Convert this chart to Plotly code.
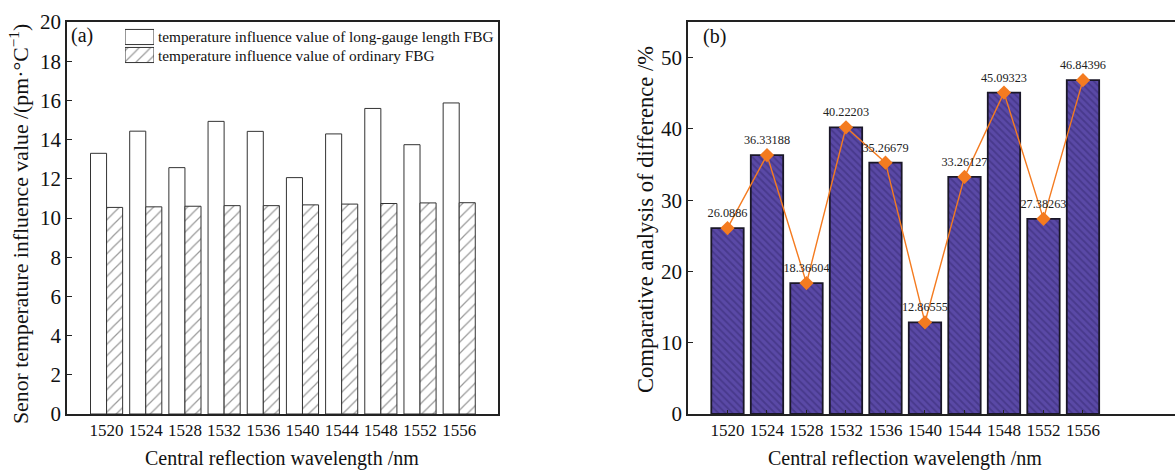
import plotly.graph_objects as go

# ---- data ----
wavelengths = ["1520", "1524", "1528", "1532", "1536", "1540", "1544", "1548", "1552", "1556"]
long_gauge = [13.30, 14.43, 12.57, 14.93, 14.42, 12.06, 14.29, 15.59, 13.74, 15.87]
ordinary = [10.54, 10.57, 10.60, 10.63, 10.63, 10.67, 10.71, 10.74, 10.77, 10.78]
difference = [26.0886, 36.33188, 18.36604, 40.22203, 35.26679, 12.86555, 33.26127, 45.09323, 27.38263, 46.84396]
legend_names = ["temperature influence value of long-gauge length FBG",
                "temperature influence value of ordinary FBG"]
y_ticks_a = list(range(0, 21, 2))
y_ticks_b = list(range(0, 51, 10))

W, H = 1175, 470
FONT = "Liberation Serif"

def px(x):
    return x / W

def py(y):
    return (H - y) / H

fig = go.Figure()

hatch_a = dict(shape="/", size=8, solidity=0.15, fgcolor="#333", bgcolor="white")

# panel (a)
fig.add_trace(go.Bar(x=wavelengths, y=long_gauge, name=legend_names[0], xaxis="x", yaxis="y",
                     marker=dict(color="white", line=dict(color="#333", width=1)), showlegend=False))
fig.add_trace(go.Bar(x=wavelengths, y=ordinary, name=legend_names[1], xaxis="x", yaxis="y",
                     marker=dict(color="white", line=dict(color="#333", width=1), pattern=hatch_a),
                     showlegend=False))

# panel (b)
fig.add_trace(go.Bar(x=wavelengths, y=difference, xaxis="x2", yaxis="y2", showlegend=False,
                     marker=dict(color="#5a49a6", line=dict(color="#1a1728", width=1.8),
                                 pattern=dict(shape="\\", size=5, solidity=0.38, fgcolor="#362a72", bgcolor="#5a49a6"))))
fig.add_trace(go.Scatter(x=wavelengths, y=difference, xaxis="x2", yaxis="y2", showlegend=False,
                         mode="lines+markers+text", text=[str(v) for v in difference],
                         textposition="top center", textfont=dict(family=FONT, size=12.3, color="#222"),
                         line=dict(color="#f47b20", width=1.4),
                         marker=dict(symbol="diamond", size=11, color="#f47b20")))

# legend swatches for panel (a)
fig.add_trace(go.Bar(x=[1], y=[1], orientation="h", xaxis="x3", yaxis="y3", showlegend=False,
                     width=0.84, offset=-0.42,
                     marker=dict(color="white", line=dict(color="#333", width=1)), hoverinfo="skip"))
fig.add_trace(go.Bar(x=[1], y=[0], orientation="h", xaxis="x3", yaxis="y3", showlegend=False,
                     width=0.84, offset=-0.42,
                     marker=dict(color="white", line=dict(color="#333", width=1), pattern=hatch_a),
                     hoverinfo="skip"))

ydom = [py(414), py(22)]
line_common = dict(showgrid=False, zeroline=False, showline=True, linecolor="#222", linewidth=1.5,
                   automargin=False)
xtick_font = dict(family=FONT, size=17, color="#111")
ytick_font = dict(family=FONT, size=21, color="#111")

fig.update_layout(
    width=W, height=H, margin=dict(l=0, r=0, t=0, b=0, pad=0), autosize=False,
    paper_bgcolor="white", plot_bgcolor="white",
    barmode="group", bargap=0.18, bargroupgap=0,
    font=dict(family=FONT, color="#111"),
    xaxis=dict(domain=[px(67), px(498)], anchor="y", type="category", range=[-1.01, 9.99],
               mirror=True, ticks="", tickangle=0, tickfont=xtick_font, **line_common),
    yaxis=dict(domain=ydom, anchor="x", range=[0, 20], tickvals=y_ticks_a, mirror=True,
               ticks="inside", ticklen=5, tickcolor="#222", tickfont=ytick_font, **line_common),
    xaxis2=dict(domain=[px(688), 1.0], anchor="y2", type="category", range=[-1.0, 11.33],
                mirror=True, ticks="inside", ticklen=4, tickcolor="#222", tickangle=0,
                tickfont=xtick_font, **line_common),
    yaxis2=dict(domain=ydom, anchor="x2", range=[0, 55], tickvals=y_ticks_b, mirror=False,
                ticks="inside", ticklen=5, tickcolor="#222", tickfont=ytick_font, **line_common),
    xaxis3=dict(domain=[px(125), px(154)], anchor="y3", range=[0, 1], visible=False, fixedrange=True,
                automargin=False),
    yaxis3=dict(domain=[py(64), py(28)], anchor="x3", range=[-0.5, 1.5], visible=False, fixedrange=True,
                automargin=False),
)

ann = [
    dict(text="(a)", x=px(69), y=py(35), xanchor="left", yanchor="middle", font=dict(size=20)),
    dict(text="(b)", x=px(701), y=py(36), xanchor="left", yanchor="middle", font=dict(size=20)),
    dict(text=legend_names[0], x=px(156), y=py(37), xanchor="left", yanchor="middle", font=dict(size=15.3)),
    dict(text=legend_names[1], x=px(156), y=py(56), xanchor="left", yanchor="middle", font=dict(size=15.3)),
    dict(text="Central reflection wavelength /nm", x=px(282), y=py(458), xanchor="center", yanchor="middle",
         font=dict(size=20)),
    dict(text="Central reflection wavelength /nm", x=px(905), y=py(458), xanchor="center", yanchor="middle",
         font=dict(size=20)),
    dict(text="Senor temperature influence value /(pm·°C<sup>−1</sup>)", x=px(19), y=py(224), textangle=-90,
         xanchor="center", yanchor="middle", font=dict(size=21.8)),
    dict(text="Comparative analysis of difference /%", x=px(645), y=py(220), textangle=-90,
         xanchor="center", yanchor="middle", font=dict(size=22.6)),
]
for a in ann:
    a.update(xref="paper", yref="paper", showarrow=False)
    a["font"] = dict(family=FONT, color="#111", **a["font"])
fig.update_layout(annotations=ann)

fig.write_html("out.html", config={"responsive": False, "displayModeBar": False},
               post_script="document.body.style.margin='0';document.body.style.overflow='hidden';"
                           "document.documentElement.style.overflow='hidden';")
